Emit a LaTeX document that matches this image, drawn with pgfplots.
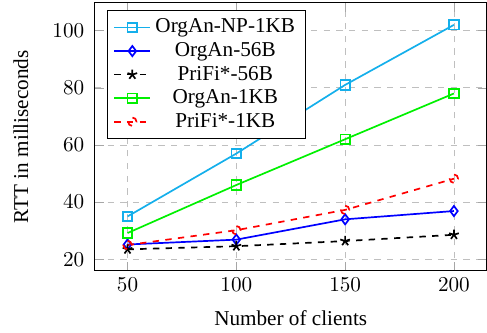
\documentclass[border=0pt]{standalone}
\usepackage{fontspec}
\setmainfont{Liberation Serif}
\usepackage{pgfplots}
\pgfplotsset{compat=1.18}
\definecolor{cy}{RGB}{20,175,235}
\definecolor{gr}{RGB}{0,240,0}
\begin{document}
\begin{tikzpicture}
\begin{axis}[
  scale only axis,
  width=185pt, height=126.7pt,
  xmin=35, xmax=215, ymin=16, ymax=109.8,
  xtick={50,100,150,200}, ytick={20,40,60,80,100},
  grid=major,
  major grid style={dashed, gray!50},
  tick style={gray!70},
  xlabel={Number of clients},
  ylabel={RTT in milliseconds},
  xlabel style={at={(axis description cs:0.5,-0.177)}, anchor=center},
  ylabel style={at={(axis description cs:-0.189,0.5)}, anchor=center},
  yticklabel style={xshift=-1.5pt},
  legend style={at={(0.03,0.972)}, anchor=north west, font=\normalsize, cells={anchor=center}, row sep=-1pt, inner xsep=3pt},
  every axis plot/.append style={thick},
]
\addplot[cy, mark=square, mark size=2.25pt, mark options={solid}] coordinates {(50,35) (100,57) (150,81) (200,102)};
\addlegendentry{OrgAn-NP-1KB}
\addplot[blue, mark=diamond, mark size=2.4pt, mark options={solid}] coordinates {(50,25.2) (100,26.9) (150,34) (200,36.9)};
\addlegendentry{OrgAn-56B}
\addplot[black, dashed, mark=star, mark size=2.4pt] coordinates {(50,23.5) (100,24.6) (150,26.4) (200,28.6)};
\addlegendentry{PriFi*-56B}
\addplot[gr, mark=square, mark size=2.25pt, mark options={solid}] coordinates {(50,29.2) (100,46) (150,62) (200,78)};
\addlegendentry{OrgAn-1KB}
\addplot[red, dashed, mark=o, mark size=2pt] coordinates {(50,25) (100,30.2) (150,37.3) (200,48.2)};
\addlegendentry{PriFi*-1KB}
\end{axis}
\path ([xshift=-3pt,yshift=1pt]current bounding box.north west);
\end{tikzpicture}
\end{document}
